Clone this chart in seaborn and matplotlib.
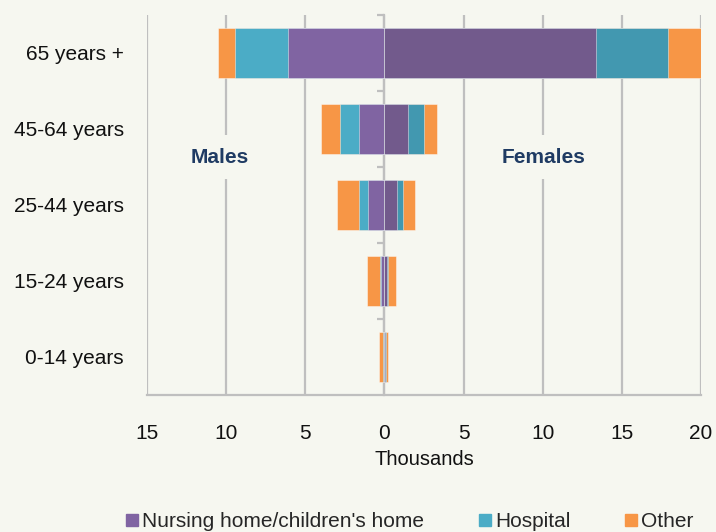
import numpy as np
import pandas as pd
import seaborn as sns
import matplotlib.pyplot as plt
from matplotlib.lines import Line2D

# values in thousands
ages = ['65 years +', '45-64 years', '25-44 years', '15-24 years', '0-14 years']
males_nursing = [6.1, 1.6, 1.05, 0.21, 0.03]
males_hospital = [3.35, 1.22, 0.55, 0.09, 0.08]
males_other = [1.05, 1.18, 1.37, 0.78, 0.21]
females_nursing = [13.35, 1.47, 0.78, 0.16, 0.03]
females_hospital = [4.55, 1.03, 0.42, 0.09, 0.08]
females_other = [2.2, 0.82, 0.73, 0.47, 0.14]
x_ticks = [-15, -10, -5, 0, 5, 10, 15, 20]

bg = '#F6F7F0'
grid_c = '#BFBFBF'
navy = '#1F3B63'

sns.set_style('white')
plt.rcParams['font.family'] = ['Liberation Sans', 'DejaVu Sans']

fig = plt.figure(figsize=(7.16, 5.32), dpi=100, facecolor=bg)
ax = fig.add_axes([147 / 716, 137 / 532, 554 / 716, 380 / 532])
ax.set_facecolor(bg)

df = pd.DataFrame({
    'age': ages,
    'm_n': males_nursing, 'm_h': males_hospital, 'm_o': males_other,
    'f_n': females_nursing, 'f_h': females_hospital, 'f_o': females_other,
})

# stacked bars: draw the cumulative totals from the outside in
layers = [
    (-(df.m_n + df.m_h + df.m_o), '#F79646'),
    (-(df.m_n + df.m_h), '#4BACC6'),
    (-df.m_n, '#8064A2'),
    (df.f_n + df.f_h + df.f_o, '#F79646'),
    (df.f_n + df.f_h, '#4298B0'),
    (df.f_n, '#725A8C'),
]
for vals, col in layers:
    sns.barplot(x=vals, y=df.age, order=ages, orient='h', color=col,
                saturation=1, width=0.67, ax=ax, zorder=2,
                edgecolor=(1, 1, 1, 0.5), linewidth=0.6)

ax.set_xlim(-15, 20)
ax.set_ylim(4.5, -0.5)
ax.set_xticks(x_ticks)
ax.set_xticklabels([str(abs(t)) for t in x_ticks])
ax.grid(axis='x', color=grid_c, linewidth=1.6, zorder=0)
ax.set_axisbelow(True)
for s in ['top', 'left', 'right']:
    ax.spines[s].set_visible(False)
ax.spines['bottom'].set_color(grid_c)
ax.spines['bottom'].set_linewidth(1.6)
ax.tick_params(axis='x', length=4, color=grid_c, width=1.2, pad=17,
               labelsize=15, labelcolor='#111111')
ax.tick_params(axis='y', length=0, pad=16.5, labelsize=15, labelcolor='#111111')
ax.set_xlabel('Thousands', fontsize=14.5, labelpad=5, color='#111111')
ax.set_ylabel('')

# vertical axis line at zero with category separators
sec = ax.secondary_yaxis(15 / 35)
sec.set_yticks([-0.5, 0.5, 1.5, 2.5, 3.5])
sec.set_yticklabels([])
sec.spines['left'].set_color(grid_c)
sec.spines['left'].set_linewidth(1.6)
sec.tick_params(length=5, color=grid_c, width=1.6)

box = dict(facecolor=bg, edgecolor='none', boxstyle='square,pad=0.6')
ax.text(-10.4, 1.37, 'Males', fontsize=15, fontweight='bold', color=navy,
        ha='center', va='center', bbox=box, zorder=3)
ax.text(10.05, 1.37, 'Females', fontsize=15, fontweight='bold', color=navy,
        ha='center', va='center', bbox=box, zorder=3)

handles = [
    Line2D([], [], marker='s', ls='none', color='#8064A2', markersize=8),
    Line2D([], [], marker='s', ls='none', color='#4BACC6', markersize=8),
    Line2D([], [], marker='s', ls='none', color='#F79646', markersize=8),
]
fig.legend(handles, ["Nursing home/children's home", 'Hospital', 'Other'],
           loc='center', bbox_to_anchor=(0.572, 0.02), ncol=3, frameon=False,
           fontsize=15, handlelength=0.6, handletextpad=0.2, columnspacing=2.6)

fig.savefig('out.png', dpi=100, facecolor=bg)
